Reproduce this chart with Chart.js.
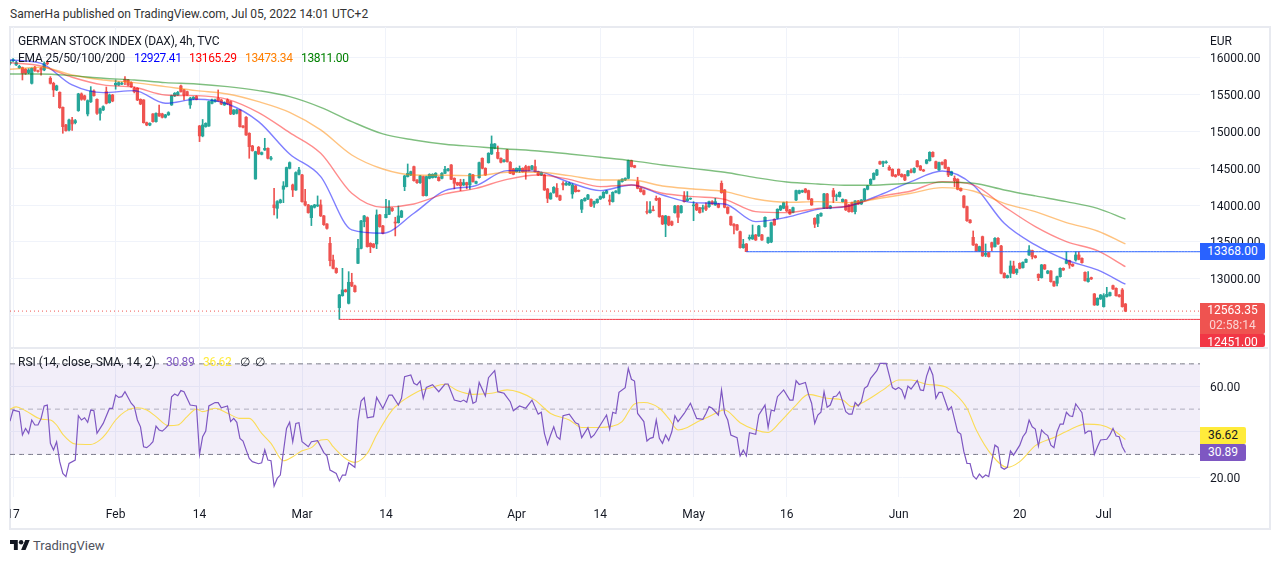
<!DOCTYPE html>
<html>
<head>
<meta charset="utf-8">
<title>DAX 4h</title>
<script src="https://cdn.jsdelivr.net/npm/chart.js@4"></script>
<style>
html,body{margin:0;padding:0;background:#fff;width:1280px;height:563px;overflow:hidden;font-family:Roboto,sans-serif;color:#131722}
canvas{position:absolute}
#frame{position:absolute;left:9px;top:26px;width:1258px;height:500px;border:2px solid #e8eaf0}
#sep{position:absolute;left:10px;top:347px;width:1258px;height:2px;background:#e8eaf0}
.t{position:absolute;white-space:nowrap;font-size:12px;line-height:14px}
.v{letter-spacing:-.35px}
.badge{position:absolute;left:1200px;width:65px;text-align:center;font-size:12px;color:#fff;border-radius:0 2px 2px 0}
</style>
</head>
<body>
<div id="frame"></div>
<div id="sep"></div>
<canvas id="priceChart" style="left:10px;top:27px" width="1258" height="320"></canvas>
<canvas id="rsiChart" style="left:10px;top:348px" width="1258" height="179"></canvas>

<div class="t" style="left:10px;top:7px;color:#333">SamerHa published on TradingView.com, Jul 05, 2022 14:01 UTC+2</div>
<div class="t" style="left:18px;top:34px;letter-spacing:-.2px">GERMAN STOCK INDEX (DAX), 4h, TVC</div>
<div class="t" style="left:18px;top:51px;letter-spacing:-.2px">EMA 25/50/100/200</div>
<div class="t v" style="left:134px;top:51px;color:#0000ff">12927.41</div>
<div class="t v" style="left:189px;top:51px;color:#ff0000">13165.29</div>
<div class="t v" style="left:245px;top:51px;color:#ff7f00">13473.34</div>
<div class="t v" style="left:301px;top:51px;color:#008000">13811.00</div>
<div class="t" style="left:1210px;top:34px">EUR</div>
<div class="t" style="left:18px;top:355px">RSI (14, close, SMA, 14, 2)</div>
<div class="t v" style="left:166px;top:355px;color:#7e57c2">30.89</div>
<div class="t v" style="left:203px;top:355px;color:#ffeb3b">36.62</div>
<div class="t" style="left:240px;top:355px">∅</div>
<div class="t" style="left:255px;top:355px">∅</div>

<div class="badge" style="top:243px;height:17px;line-height:17px;background:#2962ff">13368.00</div>
<div class="badge" style="top:303px;height:31px;line-height:15px;background:#ef5350;padding-top:0">12563.35<br><span style="opacity:.75">02:58:14</span></div>
<div class="badge" style="top:334px;height:13px;line-height:16px;overflow:hidden;background:#f23645">12451.00</div>
<div class="badge" style="top:427px;width:46px;height:17px;line-height:17px;background:#ffeb3b;color:#131722">36.62</div>
<div class="badge" style="top:444px;width:46px;height:17px;line-height:17px;background:#7e57c2">30.89</div>

<svg style="position:absolute;left:10px;top:540px" width="20" height="10" viewBox="0 4 36 18"><path d="M14 22H7V11H0V4h14v18zM28 22h-8l7.5-18h8L28 22z" fill="#131722"/><circle cx="20" cy="8" r="4" fill="#131722"/></svg>
<div class="t" style="left:33px;top:538px;font-size:13px;line-height:16px;color:#50535e">TradingView</div>

<script>
// candles, one value per 4h bar
const opens = [
15920,15955,15900,15860,15863,15840,15795,15650,15863,15820,
15853,15831,15930,15718,15650,15560,15528,15325,15085,15018,
15153,15117,15280,15506,15480,15235,15400,15546,15433,15244,
15289,15537,15388,15492,15628,15628,15640,15705,15695,15660,
15582,15582,15433,15424,15117,15085,15235,15131,15244,15235,
15190,15222,15357,15479,15492,15614,15560,15537,15357,15438,
15470,15072,14937,15063,15072,15379,15402,15447,15424,15357,
15424,15402,15235,15244,15289,15072,15190,14973,14801,14354,
14783,14688,14747,14769,14625,14002,13956,14033,14214,14250,
14498,14273,14205,14417,14408,14047,14002,13830,13970,13988,
14002,13853,13744,13482,13256,13143,12610,12773,12850,12669,
12954,12904,13211,13414,13776,13830,13482,13473,13473,13866,
13717,13830,13875,13957,13770,13762,13835,14250,14386,14408,
14521,14340,14304,14386,14128,14363,14372,14377,14377,14363,
14431,14467,14544,14363,14304,14309,14273,14304,14273,14408,
14295,14372,14634,14499,14575,14693,14770,14715,14634,14589,
14747,14580,14490,14453,14470,14498,14521,14521,14485,14521,
14453,14408,14408,14218,14083,14169,14227,14128,14295,14273,
14273,14151,14259,14200,13943,14060,14083,14078,14015,14033,
14083,14101,14160,14069,14047,14173,14160,14318,14340,14363,
14602,14535,14318,14227,14196,13912,13898,13934,14092,14092,
13853,13744,13844,13776,13898,13988,13898,14115,14060,14083,
13990,14015,13965,13948,13988,13980,14047,14002,14015,14295,
14205,13970,13844,13740,13731,13640,13423,13473,13546,13541,
13595,13582,13595,13708,13491,13500,13807,13821,13934,13957,
13988,13934,13902,14069,14160,14178,14218,14196,14083,13821,
13753,13853,13957,14151,13957,14196,14118,14115,14047,14069,
14002,14033,13911,14056,14015,14069,14214,14286,14349,14408,
14589,14566,14575,14512,14485,14408,14485,14417,14408,14399,
14467,14444,14598,14530,14476,14566,14602,14715,14589,14476,
14580,14611,14508,14408,14363,14350,14227,14124,13979,13798,
13563,13469,13378,13572,13324,13356,13491,13437,13550,13446,
13076,13017,13076,13175,13085,13211,13153,13225,13324,13383,
13311,13062,13017,13189,13076,13107,12963,12940,13030,13143,
13211,13247,13198,13256,13324,13279,13089,12963,13017,12796,
12647,12728,12624,12760,12773,12908,12872,12782,12850,12660];
const closes = [
15940,15970,15930,15880,15786,15786,15830,15853,15822,15810,
15831,15921,15915,15650,15560,15615,15320,15063,15009,15153,
15100,15144,15506,15433,15433,15415,15546,15483,15244,15303,
15334,15379,15492,15410,15650,15660,15650,15673,15628,15605,
15537,15424,15370,15117,15085,15108,15131,15244,15208,15190,
15222,15253,15483,15515,15528,15537,15492,15492,15447,15460,
15433,14937,15085,15108,15402,15424,15424,15411,15370,15388,
15370,15235,15289,15289,15063,15054,14950,14792,14738,14724,
14693,14711,14769,14634,14640,13965,14047,14069,14259,14508,
14575,14205,14440,14476,14047,14002,13898,13988,14002,14002,
13853,13735,13685,13247,13143,13085,12782,12850,12827,12954,
12904,12827,13414,13785,13853,13437,13437,13428,13866,13708,
13618,13875,13970,13925,13757,13853,13920,14395,14431,14453,
14331,14304,14395,14128,14386,14417,14417,14431,14331,14431,
14485,14490,14350,14295,14273,14264,14304,14273,14422,14318,
14318,14575,14499,14408,14702,14828,14828,14634,14580,14611,
14589,14431,14417,14498,14498,14453,14453,14467,14530,14453,
14408,14440,14205,14092,14160,14241,14115,14069,14273,14295,
14295,14273,14182,14187,14069,14092,14137,13988,14047,14078,
14115,14173,14191,14051,14173,14191,14331,14350,14363,14602,
14521,14512,14227,14182,14146,13903,13934,13925,14069,13844,
13744,13853,13731,13731,13988,13835,13988,14047,14083,14092,
14002,13934,13898,13965,13943,14047,14015,14047,13970,14169,
13970,13889,13731,13717,13663,13423,13469,13369,13564,13595,
13527,13717,13527,13834,13559,13762,13731,13943,13988,14033,
13920,13880,13965,14196,14196,14196,14173,14078,14002,13740,
13866,13889,14151,13957,13988,14115,14128,14173,14078,13934,
13911,13911,14056,14015,14069,14218,14259,14349,14431,14476,
14557,14589,14585,14476,14395,14386,14408,14386,14340,14462,
14444,14498,14521,14476,14462,14611,14715,14657,14499,14575,
14553,14499,14408,14453,14331,14214,14196,13970,13789,13762,
13460,13378,13437,13311,13347,13302,13428,13550,13473,13076,
13017,13044,13175,13076,13130,13143,13225,13265,13392,13302,
13288,13017,13189,13134,13107,12963,12904,13030,13143,13121,
13247,13189,13175,13324,13265,13220,12976,13008,12999,12647,
12737,12782,12773,12791,12814,12863,12773,12760,12624,12563.35];
const highs = [
15960,15985,15950,15895,15870,15850,15850,15860,15880,15830,
15865,15940,15950,15740,15665,15625,15535,15330,15095,15165,
15190,15160,15515,15520,15490,15425,15605,15560,15440,15315,
15345,15600,15505,15500,15695,15670,15665,15740,15705,15670,
15600,15590,15440,15430,15125,15115,15240,15250,15355,15245,
15230,15265,15490,15525,15540,15625,15570,15545,15460,15470,
15480,15080,15160,15115,15410,15435,15435,15560,15435,15400,
15440,15410,15295,15300,15295,15078,15200,14980,14810,14730,
14795,14720,14905,14775,14660,14227,14060,14080,14318,14515,
14585,14285,14450,14512,14415,14214,14010,13995,14010,14124,
14070,13860,13750,13564,13324,13150,12790,13143,12860,13098,
13076,12915,13536,13795,13860,13840,13490,13480,13935,13875,
13725,14078,14060,13965,13835,13988,13930,14402,14557,14460,
14530,14345,14402,14392,14392,14425,14425,14440,14385,14440,
14525,14498,14550,14370,14310,14350,14350,14310,14428,14415,
14325,14582,14640,14505,14710,14937,14835,14800,14640,14618,
14755,14590,14498,14505,14530,14505,14540,14530,14540,14610,
14460,14448,14415,14225,14168,14250,14290,14135,14318,14310,
14310,14290,14265,14205,14078,14100,14145,14085,14055,14085,
14124,14182,14200,14137,14180,14198,14340,14358,14370,14610,
14610,14540,14377,14235,14205,14047,14047,13988,14123,14100,
13860,13860,13850,13785,13995,13995,13995,14183,14183,14098,
14047,14025,13970,14000,14030,14055,14060,14092,14022,14327,
14212,13978,13852,13748,13740,13648,13536,13480,13595,13730,
13602,13725,13602,13840,13565,13770,13815,13950,13995,14040,
14047,13942,13972,14203,14203,14203,14225,14203,14090,13828,
13875,13896,14158,14158,13995,14227,14150,14180,14085,14076,
14010,14040,14062,14064,14076,14226,14266,14356,14438,14484,
14596,14596,14600,14535,14492,14415,14492,14425,14415,14470,
14490,14505,14605,14537,14484,14619,14723,14723,14596,14583,
14587,14618,14515,14460,14395,14358,14234,14130,13986,13805,
13649,13476,13444,13580,13473,13363,13498,13558,13558,13453,
13084,13052,13243,13240,13137,13218,13232,13272,13450,13390,
13318,13069,13196,13196,13114,13114,12970,13037,13150,13150,
13369,13254,13205,13369,13369,13286,13096,13098,13024,12803,
12744,12789,12800,12886,12821,12915,12880,12789,12870,12667];
const lows = [
15900,15940,15890,15850,15695,15770,15780,15640,15810,15800,
15760,15820,15900,15640,15470,15550,15310,14973,15000,15005,
15010,15100,15270,15420,15420,15208,15390,15475,15230,15150,
15280,15370,15380,15400,15570,15620,15630,15630,15615,15595,
15520,15415,15360,15110,15075,15075,15125,15125,15200,15180,
15180,15215,15350,15470,15485,15530,15425,15485,15310,15430,
15425,14860,14925,15055,15065,15370,15395,15405,15360,15350,
15360,15225,15225,15235,15055,15045,14945,14634,14730,14350,
14685,14680,14740,14625,14610,13866,13821,14025,14033,14245,
14490,14115,14200,14410,14040,13988,13890,13722,13960,13980,
13845,13725,13675,13175,13135,13075,12452,12765,12820,12660,
12895,12820,13205,13405,13705,13430,13355,13420,13410,13700,
13610,13825,13870,13915,13582,13755,13830,14195,14380,14400,
14325,14295,14295,14122,14122,14355,14365,14370,14325,14355,
14425,14460,14345,14220,14265,14196,14265,14220,14215,14310,
14288,14365,14490,14400,14568,14685,14762,14625,14570,14580,
14580,14425,14410,14445,14440,14445,14350,14460,14478,14445,
14400,14400,14198,14033,14078,14160,14108,14060,14205,14265,
14265,14092,14175,14180,13898,14052,14075,13980,13970,14025,
14075,14092,14152,14002,14040,14165,14152,14310,14332,14355,
14515,14505,14220,14175,14138,13880,13890,13920,14060,13835,
13735,13572,13720,13720,13890,13760,13890,14040,14052,14075,
13789,13925,13890,13905,13925,13970,14008,13995,13962,14160,
13962,13880,13725,13609,13655,13415,13415,13368,13525,13535,
13520,13575,13520,13700,13480,13490,13725,13812,13925,13950,
13912,13872,13895,14060,14152,14170,14165,14070,13995,13695,
13708,13845,13950,13950,13950,14033,14060,14108,14040,13926,
13903,13903,13880,14008,14008,14062,14206,14278,14342,14400,
14550,14521,14565,14470,14388,14378,14400,14378,14332,14392,
14436,14436,14513,14468,14455,14558,14595,14650,14492,14468,
14545,14492,14385,14400,14250,14206,14188,13960,13780,13755,
13452,13370,13370,13304,13302,13295,13378,13430,13466,13068,
13010,13010,13017,13069,13060,13136,13146,13218,13317,13270,
13281,12976,13010,13127,13069,12956,12897,12904,13023,13114,
13204,13143,13168,13240,13258,13213,12969,12956,12992,12640,
12640,12721,12617,12753,12766,12856,12766,12753,12617,12555];

// moving averages, read every tenth bar
const emaBars = [0,10,20,30,40,50,60,70,80,90,100,110,120,130,140,150,160,170,180,190,200,210,220,230,240,250,260,270,280,290,300,310,320,330,340,350,359];
const ema25 = [15966,15921,15628,15524,15551,15379,15433,15370,15131,14693,14386,13663,13618,13889,14196,14264,14467,14453,14309,14196,14273,14137,14033,14015,13776,13835,13943,13988,14137,14318,14462,14273,13753,13460,13256,13121,12927.41];
const ema50 = [15930,15885,15732,15628,15596,15492,15483,15433,15253,14982,14702,14160,13970,14015,14151,14227,14349,14408,14349,14250,14273,14160,14115,14078,13911,13898,13956,13988,14115,14191,14318,14273,13979,13708,13505,13383,13165.29];
const ema100 = [15840,15867,15763,15695,15659,15605,15551,15506,15402,15257,15018,14679,14489,14408,14404,14399,14444,14444,14399,14340,14340,14259,14218,14182,14083,14038,14047,14033,14092,14160,14236,14191,14024,13911,13762,13649,13473.34];
const ema200 = [15777,15777,15754,15718,15695,15659,15641,15605,15551,15470,15325,15131,14964,14882,14824,14792,14760,14733,14693,14648,14602,14544,14494,14444,14372,14313,14286,14268,14273,14295,14309,14295,14205,14124,14047,13956,13811];

// RSI corners, bar number and value
const rsiBars = [
0,1,3,4,5,6,7,8,9,10,
11,12,13,14,15,16,17,18,19,21,
22,23,24,25,26,27,28,30,32,33,
34,35,36,37,39,40,41,42,43,44,
45,46,47,48,49,50,51,52,53,54,
55,56,58,60,61,62,63,64,66,67,
68,70,71,72,73,74,75,76,77,78,
80,81,82,83,84,85,86,87,89,90,
91,92,93,94,96,97,99,101,102,103,
105,106,107,108,109,111,112,113,114,115,
117,118,120,122,123,125,126,127,129,130,
131,132,133,134,136,138,140,141,143,145,
146,147,148,149,150,151,153,154,156,157,
159,161,162,164,166,168,170,171,172,173,
174,175,176,177,178,180,182,183,184,186,
187,188,190,192,193,194,195,196,198,199,
200,201,202,204,205,206,207,208,209,210,
211,212,213,214,215,217,219,221,223,224,
225,226,228,229,230,231,232,234,235,236,
237,238,240,241,243,244,245,246,247,249,
251,252,253,254,256,257,258,259,260,261,
262,263,264,265,266,267,269,270,271,272,
273,274,275,276,277,279,280,282,284,285,
286,287,288,289,290,292,293,294,295,296,
297,298,299,300,302,303,305,306,307,308,
309,310,311,312,313,314,315,317,318,319,
320,321,322,323,325,326,327,328,329,330,
331,332,333,334,335,336,337,338,339,340,
341,342,343,344,345,346,347,348,349,350,
351,353,354,355,356,357,358,359];
const rsiVals = [
44.7,49.6,48.9,38.6,41.5,39.3,45.2,43,43,45.9,
51.4,51.8,34.9,32,35.6,26.8,21.6,20.2,26,27.5,
47.1,45.2,46.2,44.2,49.6,49.3,39.3,43.7,50.3,50.3,
56.2,55.2,55.5,57.7,52.6,51.1,45.2,42.2,33.4,33,
34.1,35.6,42.5,40.8,40.3,41.5,43,55.5,56.7,55.9,
58.2,57.7,51.8,51.4,30,37.8,40.3,51.4,52.9,52.9,
50.6,51.4,44.5,45.9,44.2,37.1,35.9,32,28.2,26.8,
25.9,26.3,32,27.5,27.2,16,19.4,20.9,41.5,44.2,
35.6,43.7,44,35.6,33.4,35.6,36.1,30.8,29.4,23.1,
21.6,18.2,20.9,20.9,26.3,24.3,44.7,53.6,55.1,46.2,
46.7,55.2,50.3,56.2,56.2,51.8,54.8,64.3,65.1,61.4,
60.7,62.4,54.8,59.6,60.8,57.7,61.1,61.1,54,53.3,
54,53,58.5,52.6,53.3,61.8,55.8,63.9,67,57.7,
57,53.3,49.3,51.4,50.4,54,47.8,48.6,39.3,34.4,
38.6,42.2,37.8,36.7,47.1,47.8,44,43.4,37.4,41.8,
37.4,38.6,43,47.4,41.1,48.6,48.1,57.4,59.5,68,
63.2,62.4,48.1,44.5,35.9,37.1,37.5,45.2,37.1,34.9,
38.6,36.1,40,47.1,44.5,48.1,52.6,45.9,45.5,48.1,
51.1,50.4,47.4,58.5,48.1,45.2,38.6,37.4,29.3,31.9,
29.4,39.6,38.9,47.4,51.8,41.9,49.6,49.2,55.5,58.5,
54,54,62.6,60.9,61.8,56.5,52.6,43.7,47.4,48.6,
57.7,50.8,51.8,55.5,55.8,57.7,48.9,47.8,47.8,52.9,
51.4,53.3,59.2,60.2,63.6,67,70.2,70.2,59.5,58.7,
59.6,58.5,54.8,60.2,58.9,62.6,58.5,58.2,64.6,68.5,
65.1,54.8,57.4,57.4,49.6,51.1,40,39,31.2,26,
26,20.5,19.1,21.3,19.7,20.9,20.2,34.1,33.1,24.3,
23.4,24.3,31.5,29.7,34.1,37.8,39.7,45.2,42.2,41.2,
33.7,40.8,39.3,38.3,34.1,33,40,43.4,43.4,48.6,
47.1,46.7,52.3,50.4,48.4,39.3,40.3,40.3,30,33.4,
36.4,36.7,38.6,41.5,38.1,37.8,33.4,30.89];
const maBars = [
0,2,5,10,13,15,17,21,26,29,
31,34,37,41,44,47,51,54,57,60,
62,66,70,74,77,81,84,88,91,94,
97,100,102,104,108,111,115,118,123,126,
129,132,135,140,144,149,155,160,164,169,
174,180,184,189,194,197,201,204,209,212,
215,218,221,225,230,235,240,244,248,253,
257,263,268,271,275,281,286,290,295,301,
304,308,311,316,321,325,330,336,341,346,
351,355,359];
const maVals = [
50,51,49.3,45.6,45.2,43,38.9,34.6,34.4,36.4,
39.3,45.2,48.9,50.6,49.6,46.7,42.7,43,46.7,50,
48.9,50.4,48.2,45.9,45.9,39.3,34.9,27.2,29,31.6,
33,36.4,36.6,33.4,28.2,26.5,30.5,38.6,49.6,53.3,
56,58.2,59.2,61,58.2,56.5,57,58.5,57.4,54,
48.1,45.2,41.9,41.9,42.5,44.5,52.3,52.9,50.4,45.9,
40.8,41.9,44.2,46.7,49.6,44,40.8,39.7,44.5,51.8,
56.5,54.8,54,51.1,53.3,58.5,62.9,62.9,61,59.9,
57,50.4,40.8,29.7,24.3,26.8,33.9,37.5,40.8,43.4,
43,40.8,36.62];

// axes
const barCount = 384;
const timeTickBars = [1,34,61,94,121,163,190,220,250,286,325,352];
const timeTickLabels = ['17','Feb','14','Mar','14','Apr','14','May','16','Jun','20','Jul'];
const priceTicks = [12500,13000,13500,14000,14500,15000,15500,16000];
const rsiTicks = [20,40,60];

// drawn levels
const lastPrice = 12563.35;
const lowLevel = 12451, lowLevelBar = 106;
const highLevel = 13368, highLevelBar = 237;

const labels = [];
for (let i = 0; i < barCount; i++) labels.push(i);

const bullColor = '#26a69a', bearColor = '#ef5350', gridColor = '#f0f3fa';
const candleColors = closes.map((c, i) => c >= opens[i] ? bullColor : bearColor);

function sparse(bars, vals) {
    let out = labels.map(() => null);
    bars.forEach((b, i) => { out[b] = vals[i]; });
    return out;
}
function emaLine(vals, color) {
    return { type: 'line', data: sparse(emaBars, vals), borderColor: color, borderWidth: 1.4,
        pointRadius: 0, spanGaps: true, cubicInterpolationMode: 'monotone', order: 1 };
}
function levelLine(value, from, color, dash) {
    return { type: 'line', data: labels.map(i => i >= from ? value : null), borderColor: color, borderWidth: 1,
        borderDash: dash, pointRadius: 0, order: 0 };
}
function setTicks(values) {
    return scale => { scale.ticks = values.map(v => ({ value: v })); };
}
// the plot fills the canvas, labels do not push it in
function fitBox(width, height) {
    return s => {
        if (width !== null) s.width = width;
        if (height !== null) s.height = height;
        s.paddingLeft = s.paddingRight = s.paddingTop = s.paddingBottom = 0;
    };
}
const tickFont = { family: 'Roboto', size: 12 };

new Chart(document.getElementById('priceChart'), {
    type: 'bar',
    data: {
        labels: labels,
        datasets: [
            { data: highs.map((h, i) => [lows[i], h]), backgroundColor: candleColors, barThickness: 1, grouped: false, order: 3 },
            { data: opens.map((o, i) => [o, closes[i]]), backgroundColor: candleColors, barThickness: 2.6, grouped: false, order: 2 },
            emaLine(ema200, 'rgba(0,128,0,.5)'),
            emaLine(ema100, 'rgba(255,135,0,.5)'),
            emaLine(ema50, 'rgba(255,0,0,.45)'),
            emaLine(ema25, 'rgba(0,0,255,.5)'),
            levelLine(lastPrice, 0, bearColor, [1, 3]),
            levelLine(lowLevel, lowLevelBar, '#f23645', []),
            levelLine(highLevel, highLevelBar, '#2962ff', [])
        ]
    },
    options: {
        responsive: false, animation: false,
        layout: { padding: 0 },
        plugins: { legend: { display: false }, tooltip: { enabled: false } },
        scales: {
            x: {
                offset: false, border: { display: false },
                grid: { color: gridColor, offset: false, drawTicks: false },
                ticks: { display: false, autoSkip: false },
                afterBuildTicks: setTicks(timeTickBars),
                afterFit: fitBox(null, 0)
            },
            y: {
                position: 'right', min: 12077, max: 16413,
                border: { display: false },
                grid: { color: gridColor, drawTicks: false },
                ticks: { color: '#131722', font: tickFont, padding: 10, labelOffset: 1.5, callback: v => v.toFixed(2) },
                afterBuildTicks: setTicks(priceTicks),
                afterFit: fitBox(68, null)
            }
        }
    }
});

function rsiLevel(value, color, fill) {
    return { data: labels.map(() => value), borderColor: color, borderWidth: 1, borderDash: [5, 4],
        pointRadius: 0, fill: fill || false, backgroundColor: 'rgba(126,87,194,.1)', order: 3 };
}

new Chart(document.getElementById('rsiChart'), {
    type: 'line',
    data: {
        labels: labels,
        datasets: [
            rsiLevel(70, '#787b86', { value: 30 }),
            rsiLevel(50, 'rgba(120,123,134,.55)'),
            rsiLevel(30, '#787b86'),
            { data: sparse(maBars, maVals), borderColor: '#fbdc57', borderWidth: 1.1, pointRadius: 0, spanGaps: true,
                cubicInterpolationMode: 'monotone', order: 2 },
            { data: sparse(rsiBars, rsiVals), borderColor: '#7e57c2', borderWidth: 1.2, pointRadius: 0, spanGaps: true, order: 1 }
        ]
    },
    options: {
        responsive: false, animation: false,
        layout: { padding: 0 },
        plugins: { legend: { display: false }, tooltip: { enabled: false } },
        scales: {
            x: {
                offset: false, border: { display: false },
                grid: { color: gridColor, offset: false, drawTicks: false },
                ticks: { color: '#131722', font: tickFont, padding: 11, autoSkip: false, maxRotation: 0,
                    callback: (v, i) => timeTickLabels[i] },
                afterBuildTicks: setTicks(timeTickBars),
                afterFit: fitBox(null, 30)
            },
            y: {
                position: 'right', min: 11.2, max: 77,
                border: { display: false },
                grid: { color: gridColor, drawTicks: false },
                ticks: { color: '#131722', font: tickFont, padding: 10, labelOffset: 1.5, callback: v => v.toFixed(2) },
                afterBuildTicks: setTicks(rsiTicks),
                afterFit: fitBox(68, null)
            }
        }
    }
});
</script>
</body>
</html>
